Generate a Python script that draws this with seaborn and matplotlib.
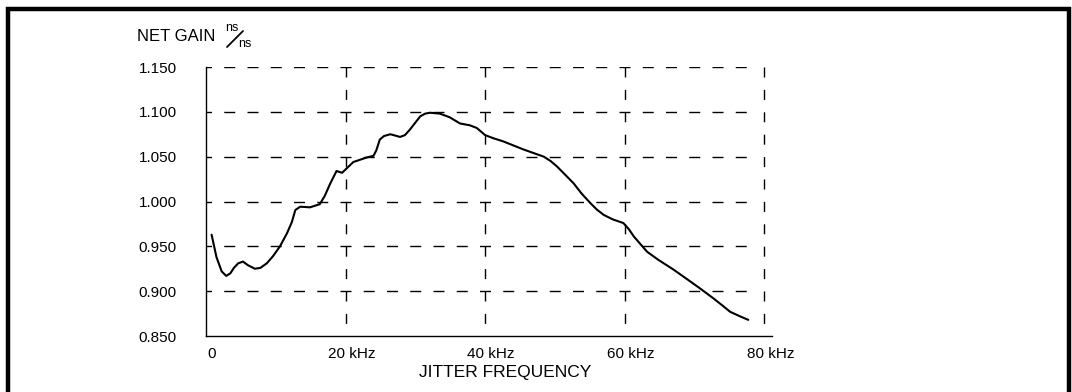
import matplotlib
matplotlib.use("Agg")
import matplotlib.pyplot as plt
import matplotlib.transforms as mtransforms
from matplotlib.lines import Line2D
import pandas as pd
import seaborn as sns

# Net gain of the jitter loop versus jitter frequency
freq_khz = [0.8, 1.5, 2.25, 2.9, 3.5, 4.0, 4.6, 5.3, 6.0, 7.0, 7.8, 8.7, 9.6,
            10.6, 11.6, 12.3, 12.8, 13.5, 14.9, 16.3, 17.0, 17.8, 18.7, 19.5,
            21.1, 23.0, 24.0, 24.4, 24.9, 25.5, 26.4, 26.9, 27.8, 28.5, 29.2,
            30.0, 30.7, 31.4, 32.1, 32.8, 33.5, 34.9, 36.4, 37.8, 38.8, 39.4,
            40.0, 41.2, 42.6, 45.5, 48.4, 49.4, 50.3, 51.7, 52.7, 53.8, 55.1,
            56.0, 57.0, 58.3, 59.8, 60.6, 61.3, 62.3, 63.2, 64.8, 67.0, 69.0,
            70.8, 72.7, 74.0, 75.1, 76.5, 77.7]
net_gain = [0.963, 0.938, 0.922, 0.917, 0.920, 0.926, 0.931, 0.933, 0.929,
            0.925, 0.926, 0.931, 0.939, 0.950, 0.9645, 0.977, 0.9905, 0.9942,
            0.9935, 0.997, 1.006, 1.020, 1.034, 1.032, 1.044, 1.049, 1.051,
            1.057, 1.069, 1.073, 1.075, 1.074, 1.072, 1.074, 1.080, 1.088,
            1.095, 1.098, 1.099, 1.0985, 1.098, 1.094, 1.087, 1.085, 1.082,
            1.078, 1.074, 1.0705, 1.067, 1.058, 1.050, 1.045, 1.039, 1.028,
            1.020, 1.009, 0.998, 0.991, 0.985, 0.980, 0.976, 0.969, 0.961,
            0.952, 0.944, 0.935, 0.924, 0.913, 0.903, 0.892, 0.884, 0.877,
            0.872, 0.868]

x_ticks = [0, 20, 40, 60, 80]
x_tick_labels = ["0", "20 kHz", "40 kHz", "60 kHz", "80 kHz"]
y_ticks = [0.850, 0.900, 0.950, 1.000, 1.050, 1.100, 1.150]
y_tick_labels = ["0.850", "0.900", "0.950", "1.000", "1.050", "1.100", "1.150"]

sns.set_theme(style="white")
plt.rcParams["font.family"] = ["Liberation Sans", "DejaVu Sans"]

W, H = 1072, 392
DPI = 100
fig = plt.figure(figsize=(W / DPI, H / DPI), dpi=DPI)
fig.patch.set_facecolor("white")


def fx(px):
    return px / W


def fy(py):
    return 1 - py / H


ax = fig.add_axes([fx(206), fy(336), fx(772) - fx(206), fy(67) - fy(336)])

df = pd.DataFrame({"freq": freq_khz, "gain": net_gain})
sns.lineplot(data=df, x="freq", y="gain", ax=ax, color="black",
             linewidth=1.5, sort=False, estimator=None, zorder=3)
ax.lines[0].set_solid_joinstyle("round")
ax.lines[0].set_solid_capstyle("round")

ax.set_xlim(0, 81.1)
ax.set_ylim(0.85, 1.15)

# dashed grid
grid_lw = 1.0
PT = 72 / DPI  # points per pixel


def dash_style(on_px, off_px, centred):
    on = on_px * PT / grid_lw
    off = off_px * PT / grid_lw
    return (on / 2 if centred else 0, (on, off))


# horizontal rules: dashes centred on each vertical rule
h_dash = dash_style(11, 12.25, True)
x_end = x_ticks[-1] - 0.85
for y in y_ticks[1:]:
    ax.plot([0, x_end], [y, y], color="black", lw=grid_lw,
            linestyle=h_dash, zorder=1)
# vertical rules: drawn top-down so each dash hangs from a horizontal rule
v_dash = dash_style(10, 12.4, False)
for x in x_ticks[1:]:
    ax.plot([x, x], [y_ticks[-1], y_ticks[0]], color="black", lw=grid_lw,
            linestyle=v_dash, zorder=1)

for side in ["top", "right"]:
    ax.spines[side].set_visible(False)
for side in ["left", "bottom"]:
    ax.spines[side].set_color("black")
    ax.spines[side].set_linewidth(1.0)

ax.set_xticks(x_ticks)
ax.set_xticklabels(x_tick_labels, fontsize=11)
ax.set_yticks(y_ticks)
ax.set_yticklabels(y_tick_labels, fontsize=11)
ax.tick_params(axis="both", length=0, colors="black")
ax.tick_params(axis="y", pad=21)
ax.tick_params(axis="x", pad=8)
offset = mtransforms.ScaledTranslation(6 / DPI, 0, fig.dpi_scale_trans)
for lbl in ax.get_xticklabels():
    lbl.set_transform(lbl.get_transform() + offset)
ax.set_xlabel("")
ax.set_ylabel("")

# axis titles
fig.text(fx(137), fy(41), "NET GAIN", fontsize=12, ha="left", va="baseline",
         color="black")
fig.text(fx(225), fy(31), "ns", fontsize=9, ha="left", va="baseline",
         color="black")
fig.text(fx(238), fy(47), "ns", fontsize=9, ha="left", va="baseline",
         color="black")
fig.add_artist(Line2D([fx(227), fx(243)], [fy(47), fy(31)], color="black",
                      lw=1.3, transform=fig.transFigure))
fig.text(fx(505), fy(373), "JITTER FREQUENCY", fontsize=12.5, ha="center",
         va="center", color="black")

# frame around the figure (left, top, right)
frame_lw = 3.2
fig.add_artist(Line2D([fx(7.5), fx(7.5), fx(1068.5), fx(1068.5)],
                      [0, fy(8.5), fy(8.5), 0], color="black", lw=frame_lw,
                      solid_joinstyle="miter", transform=fig.transFigure))

fig.savefig("out.png", dpi=DPI, facecolor="white")
